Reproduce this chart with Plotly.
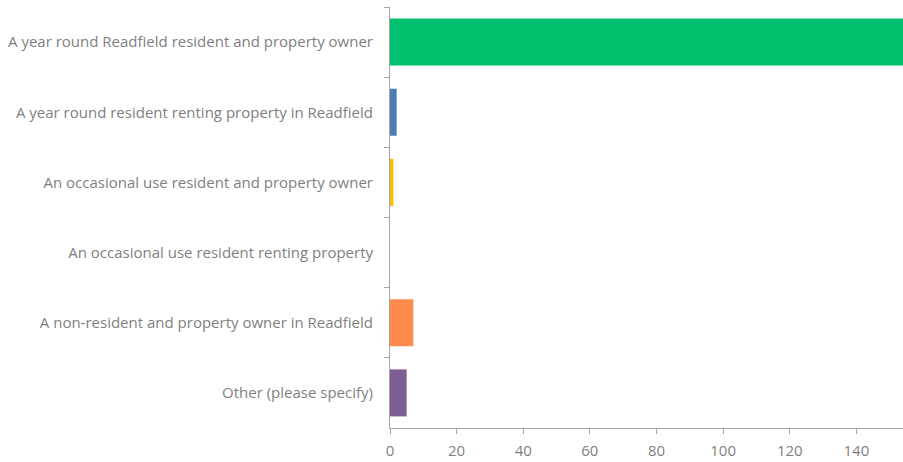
import plotly.graph_objects as go

categories = [
    "A year round Readfield resident and property owner",
    "A year round resident renting property in Readfield",
    "An occasional use resident and property owner",
    "An occasional use resident renting property",
    "A non-resident and property owner in Readfield",
    "Other (please specify)",
]
values = [160, 2, 1, 0, 7, 5]
colors = ["#00BF6F", "#507CB6", "#F9BE00", "#6BC8CD", "#FF8B4F", "#7D5E90"]
x_ticks = [0, 20, 40, 60, 80, 100, 120, 140]

fig = go.Figure(go.Bar(
    y=categories, x=values, orientation="h",
    marker=dict(color=colors, line=dict(width=0)),
    width=0.67, hoverinfo="x+y",
))

fig.update_layout(
    width=903, height=462,
    margin=dict(l=390, r=0, t=7, b=34, autoexpand=False),
    plot_bgcolor="white", paper_bgcolor="white",
    showlegend=False,
    font=dict(family="Open Sans", size=15, color="#7F7F7F"),
)
fig.update_xaxes(
    range=[0, 154], tickvals=x_ticks, showgrid=False, zeroline=False,
    showline=True, linecolor="#A6A6A6", linewidth=1,
    ticks="outside", ticklen=5, tickcolor="#A6A6A6",
    ticklabelstandoff=4,
    tickfont=dict(size=15, color="#7F7F7F"),
)
fig.update_yaxes(
    categoryorder="array", categoryarray=categories, autorange="reversed",
    showgrid=False, zeroline=False, showline=True, linecolor="#A6A6A6", linewidth=1,
    ticks="outside", ticklen=5, tickcolor="#A6A6A6", tickson="boundaries",
    ticklabelstandoff=13,
    tickfont=dict(size=15, color="#7F7F7F"),
)

fig.write_html(
    "out.html",
    config={"displayModeBar": False},
    post_script="document.body.style.margin='0';document.body.style.padding='0';",
)
